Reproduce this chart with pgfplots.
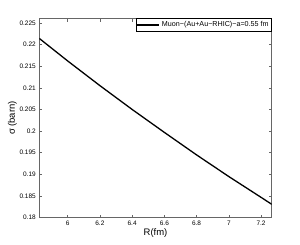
\documentclass[border=0pt]{standalone}
\usepackage{pgfplots}
\pgfplotsset{compat=1.18}
\usepackage{fontspec}
\setmainfont{Liberation Sans}
\begin{document}
\begin{tikzpicture}
\begin{axis}[
  scale only axis,
  width=232.4bp, height=199.2bp,
  xmin=5.824, xmax=7.266,
  ymin=0.18, ymax=0.226,
  xtick={6,6.2,6.4,6.6,6.8,7,7.2},
  ytick={0.18,0.185,0.19,0.195,0.2,0.205,0.21,0.215,0.22,0.225},
  yticklabel style={/pgf/number format/fixed,/pgf/number format/precision=3},
  xticklabel style={/pgf/number format/fixed},
  /pgf/number format/assume math mode=true,
  tick align=inside,
  major tick length=3bp,
  tick style={color=black!60, line width=0.5bp},
  axis line style={color=black!60, line width=0.8bp},
  ticklabel style={font=\fontsize{6.5}{7}\selectfont},
  scaled y ticks=false,
  xlabel={R(fm)},
  ylabel={σ (barn)},
  label style={font=\fontsize{9.5}{10}\selectfont},
  xlabel style={yshift=4bp},
  ylabel style={yshift=-4bp},
  legend style={at={(1,1)}, anchor=north east, font=\fontsize{7.2}{8}\selectfont,
    draw=black, line width=0.5bp, inner sep=0.8bp, row sep=0pt},
  legend cell align=left,
  legend image code/.code={\draw[#1, line width=1.3bp] (0bp,0bp) -- (22bp,0bp);},
]
\addplot[black, line width=1.3bp] coordinates {
(5.824,0.2214) (6.0,0.2162) (6.2,0.2105) (6.4,0.2050) (6.6,0.1997)
(6.8,0.1945) (7.0,0.1895) (7.2,0.1847) (7.266,0.1831)
};
\addlegendentry{Muon−(Au+Au−RHIC)−a=0.55 fm}
\end{axis}
\path (-39.3bp,-27.3bp) rectangle (260.7bp,217.7bp);
\end{tikzpicture}
\end{document}
